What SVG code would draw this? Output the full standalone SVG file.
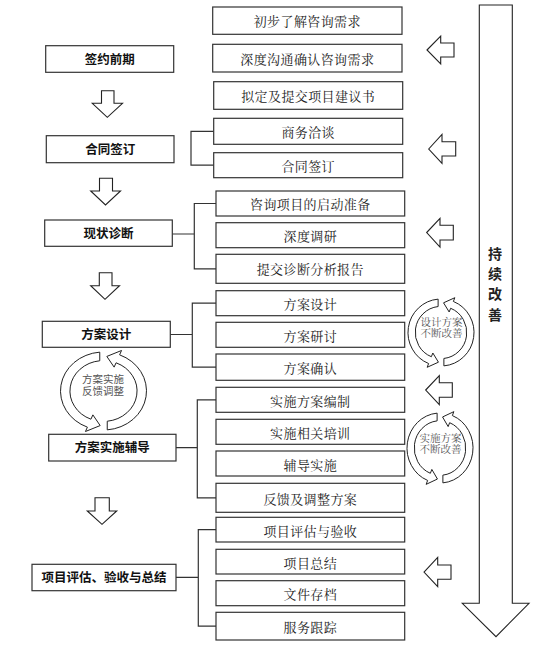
<svg xmlns="http://www.w3.org/2000/svg" xmlns:xlink="http://www.w3.org/1999/xlink" width="539" height="649" viewBox="0 0 539 649">
<style>
.box{fill:#fff;stroke:#333;stroke-width:1.2}
.arr{fill:#fff;stroke:#222;stroke-width:1.1;stroke-linejoin:miter}
.con{fill:none;stroke:#333;stroke-width:1.2}
.lt{font-family:"Liberation Sans","Noto Sans CJK SC",sans-serif;font-size:12.5px;font-weight:bold;fill:#111;text-anchor:middle;dominant-baseline:central}
.rt{font-family:"Liberation Serif","Noto Serif CJK SC","Noto Sans CJK SC",serif;font-size:13px;fill:#222;text-anchor:middle;dominant-baseline:central;letter-spacing:0.4px}
.ct{font-family:"Liberation Sans","Noto Sans CJK SC",sans-serif;font-size:10.5px;fill:#555;text-anchor:middle;dominant-baseline:central}
.cs{font-family:"Liberation Serif","Noto Serif CJK SC","Noto Sans CJK SC",serif;font-size:10.5px;fill:#555;text-anchor:middle;dominant-baseline:central}
.band{fill:#fff;stroke:#222;stroke-width:1;vector-effect:non-scaling-stroke}
.vt{font-family:"Liberation Sans","Noto Sans CJK SC",sans-serif;font-size:14px;font-weight:bold;fill:#222;text-anchor:middle;dominant-baseline:central}
</style>
<defs>
<path id="bandA" class="band" d="M0.0872,0.9962 A1,1 0 0 0 0.3746,-0.9272 L0.4196,-1.0385 L0.0776,-0.8866 L0.2472,-0.612 L0.2922,-0.7232 A0.78,0.78 0 0 1 0.0872,0.7751 Z"/>
</defs>
<rect width="539" height="649" fill="#fff"/>

<!-- big right arrow -->
<g id="big-arrow">
<polygon class="arr" points="479.3,5 512.3,5 512.3,603.3 529,603.3 496,636.7 462.3,603.3 479.3,603.3"/>
<text class="vt" x="495" y="253.5">持</text>
<text class="vt" x="495" y="273.5">续</text>
<text class="vt" x="495" y="294">改</text>
<text class="vt" x="495" y="314.5">善</text>
</g>

<!-- connectors -->
<g id="connectors">
<path class="con" d="M213.7,131.3 H191 V165.2 H213.7"/>
<path class="con" d="M172.3,234 H194.3 M216,203.5 H194.3 V268.8 H216"/>
<path class="con" d="M170.3,334.5 H192.3 M216,303.2 H192.3 V367.2 H216"/>
<path class="con" d="M176,447.7 H197.3 M216,399.8 H197.3 V497.8 H216"/>
<path class="con" d="M176,577.3 H198.3 M216,529.7 H198.3 V626.2 H216"/>
</g>

<!-- left stage boxes -->
<g id="s1"><rect class="box" x="45.7" y="45.7" width="128" height="26.6"/><text class="lt" x="109.7" y="59.5">签约前期</text></g>
<g id="s2"><rect class="box" x="46.3" y="135.7" width="127.7" height="27"/><text class="lt" x="110.2" y="149.5">合同签订</text></g>
<g id="s3"><rect class="box" x="44.7" y="220" width="127.6" height="26.3"/><text class="lt" x="108.5" y="233.5">现状诊断</text></g>
<g id="s4"><rect class="box" x="42.3" y="321.3" width="128" height="26"/><text class="lt" x="106.3" y="334.5">方案设计</text></g>
<g id="s5"><rect class="box" x="48.7" y="434.3" width="127.3" height="26.7"/><text class="lt" x="112.3" y="448">方案实施辅导</text></g>
<g id="s6"><rect class="box" x="32" y="564.3" width="144" height="26.4"/><text class="lt" x="104" y="578">项目评估、验收与总结</text></g>

<!-- down arrows -->
<g id="down1"><polygon class="arr" points="101.5,90.7 114,90.7 114,103.3 122.5,103.3 107.3,117.3 92.3,103.3 101.5,103.3"/></g>
<g id="down2"><polygon class="arr" points="99.5,178.3 112.5,178.3 112.5,191 120.5,191 105.5,205 90.7,191 99.5,191"/></g>
<g id="down3"><polygon class="arr" points="99.3,272.7 112,272.7 112,285.7 119.5,285.7 105,299.3 90.7,285.7 99.3,285.7"/></g>
<g id="down4"><polygon class="arr" points="95,497.7 109.3,497.7 109.3,511 116.7,511 102,524.3 87.3,511 95,511"/></g>

<!-- right column boxes -->
<g id="r1"><rect class="box" x="212.7" y="7" width="189.3" height="27.3"/><text class="rt" x="307.3" y="21.5">初步了解咨询需求</text></g>
<g id="r2"><rect class="box" x="212.7" y="44.3" width="189.3" height="27.7"/><text class="rt" x="307.3" y="59">深度沟通确认咨询需求</text></g>
<g id="r3"><rect class="box" x="213.7" y="81.7" width="189" height="27.6"/><text class="rt" x="308.2" y="96.5">拟定及提交项目建议书</text></g>
<g id="r4"><rect class="box" x="213.7" y="118.3" width="189" height="26"/><text class="rt" x="308.2" y="132.5">商务洽谈</text></g>
<g id="r5"><rect class="box" x="213.7" y="152.7" width="189" height="25"/><text class="rt" x="308.2" y="166.5">合同签订</text></g>
<g id="r6"><rect class="box" x="216" y="191" width="188.7" height="25"/><text class="rt" x="310.3" y="204">咨询项目的启动准备</text></g>
<g id="r7"><rect class="box" x="216" y="222.7" width="188.7" height="25"/><text class="rt" x="310.3" y="236.5">深度调研</text></g>
<g id="r8"><rect class="box" x="216" y="254.3" width="188.7" height="29"/><text class="rt" x="310.3" y="269.5">提交诊断分析报告</text></g>
<g id="r9"><rect class="box" x="216" y="290.7" width="188.7" height="25"/><text class="rt" x="310.3" y="304.5">方案设计</text></g>
<g id="r10"><rect class="box" x="216" y="322.3" width="188.7" height="25"/><text class="rt" x="310.3" y="336">方案研讨</text></g>
<g id="r11"><rect class="box" x="216" y="354" width="188.7" height="26.3"/><text class="rt" x="310.3" y="368">方案确认</text></g>
<g id="r12"><rect class="box" x="216" y="387.3" width="188.7" height="25"/><text class="rt" x="310.3" y="401">实施方案编制</text></g>
<g id="r13"><rect class="box" x="216" y="419.3" width="188.7" height="25"/><text class="rt" x="310.3" y="433">实施相关培训</text></g>
<g id="r14"><rect class="box" x="216" y="451" width="188.7" height="25"/><text class="rt" x="310.3" y="465">辅导实施</text></g>
<g id="r15"><rect class="box" x="216" y="483.3" width="188.7" height="29"/><text class="rt" x="310.3" y="499">反馈及调整方案</text></g>
<g id="r16"><rect class="box" x="216" y="517.3" width="188.7" height="24.7"/><text class="rt" x="310.3" y="531">项目评估与验收</text></g>
<g id="r17"><rect class="box" x="216" y="549.3" width="188.7" height="24.7"/><text class="rt" x="310.3" y="563">项目总结</text></g>
<g id="r18"><rect class="box" x="216" y="580.7" width="188.7" height="25"/><text class="rt" x="310.3" y="594.5">文件存档</text></g>
<g id="r19"><rect class="box" x="216" y="612.3" width="188.7" height="27.7"/><text class="rt" x="310.3" y="627">服务跟踪</text></g>

<!-- left-pointing arrows -->
<g id="la1"><polygon class="arr" points="427,50 440.7,36 440.7,43 454,43 454,57 440.7,57 440.7,64"/></g>
<g id="la2"><polygon class="arr" points="428.7,149 442,134.5 442,141.7 455.7,141.7 455.7,156 442,156 442,163.3"/></g>
<g id="la3"><polygon class="arr" points="426.7,232.5 440,218.3 440,225.3 453.3,225.3 453.3,240 440,240 440,247"/></g>
<g id="la4"><polygon class="arr" points="425.7,390 439.3,375.7 439.3,382.7 452.3,382.7 452.3,397.3 439.3,397.3 439.3,404.7"/></g>
<g id="la5"><polygon class="arr" points="424,572 437.7,557.3 437.7,565 451,565 451,579.3 437.7,579.3 437.7,586.7"/></g>

<!-- circular arrows -->
<g id="cycle-left">
<g transform="translate(103.5,391) scale(43,39)"><use xlink:href="#bandA" href="#bandA"/><use xlink:href="#bandA" href="#bandA" transform="rotate(180)"/></g>
<text class="ct" x="103" y="379">方案实施</text>
<text class="ct" x="103" y="390.5">反馈调整</text>
</g>
<g id="cycle-design">
<g transform="translate(441,332.5) scale(33,33.5)"><use xlink:href="#bandA" href="#bandA"/><use xlink:href="#bandA" href="#bandA" transform="rotate(180)"/></g>
<text class="cs" x="441.5" y="322">设计方案</text>
<text class="cs" x="441.5" y="333">不断改善</text>
</g>
<g id="cycle-impl">
<g transform="translate(440,448) scale(33,35)"><use xlink:href="#bandA" href="#bandA"/><use xlink:href="#bandA" href="#bandA" transform="rotate(180)"/></g>
<text class="cs" x="440.5" y="438.5">实施方案</text>
<text class="cs" x="440.5" y="449.5">不断改善</text>
</g>
</svg>
